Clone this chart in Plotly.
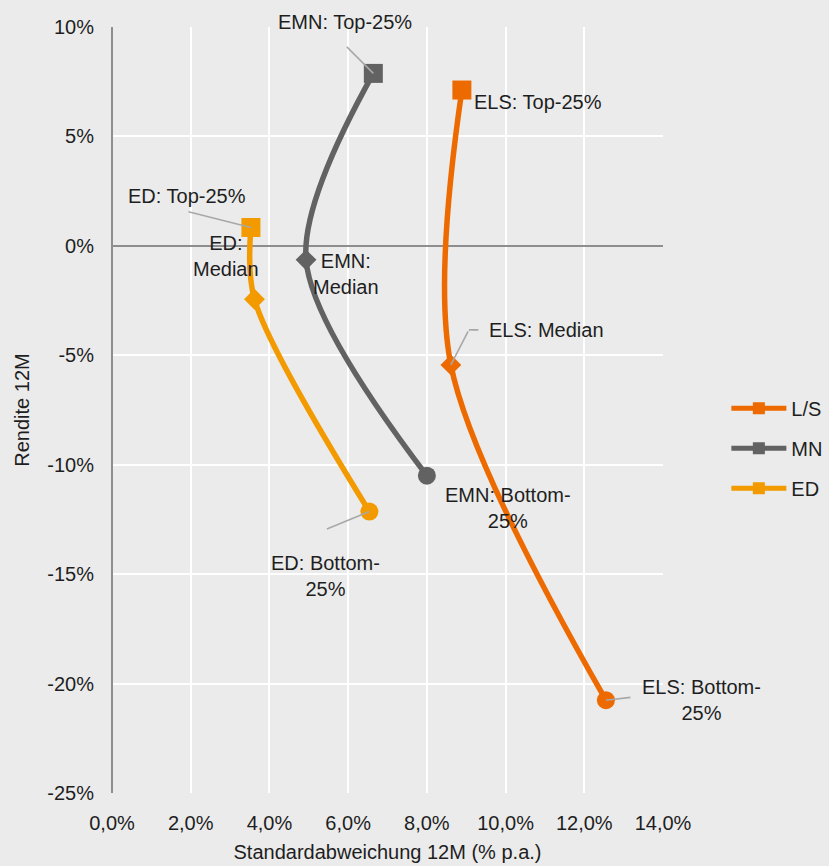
import plotly.graph_objects as go

# ---- data ----
series_names = ["L/S", "MN", "ED"]
point_labels = ["Top-25%", "Median", "Bottom-25%"]
sd_ls = [8.89, 8.61, 12.55]
ret_ls = [7.12, -5.44, -20.76]
sd_mn = [6.64, 4.93, 8.00]
ret_mn = [7.88, -0.64, -10.50]
sd_ed = [3.53, 3.62, 6.54]
ret_ed = [0.84, -2.44, -12.14]

x_tickvals = [0, 2, 4, 6, 8, 10, 12, 14]
x_ticktext = ["0,0%", "2,0%", "4,0%", "6,0%", "8,0%", "10,0%", "12,0%", "14,0%"]
y_tickvals = [10, 5, 0, -5, -10, -15, -20, -25]
y_ticktext = ["10%", "5%", "0%", "-5%", "-10%", "-15%", "-20%", "-25%"]

# ---- styles ----
FONT = "Liberation Sans, Arial, Helvetica, sans-serif"
TXT = "#1e1e1e"
BG = "#ebebeb"
C_LS = "#ec6a00"
C_MN = "#626262"
C_ED = "#f29a00"
LEAD = "#a8a8a8"
symbols = ["square", "diamond", "circle"]
sizes = [19, 16, 18]

fig = go.Figure()
for name, xs, ys, col in [("L/S", sd_ls, ret_ls, C_LS),
                          ("MN", sd_mn, ret_mn, C_MN),
                          ("ED", sd_ed, ret_ed, C_ED)]:
    fig.add_trace(go.Scatter(
        x=xs, y=ys, name=name, mode="lines+markers", legendgroup=name,
        line=dict(color=col, width=5.5, shape="spline", smoothing=0.9),
        marker=dict(symbol=symbols, size=sizes, color=col, opacity=1,
                    line=dict(width=0)),
        hoverinfo="skip",
    ))

annotations = []

def label(x, y, text, dx, dy, align="center", xanchor="center"):
    annotations.append(dict(x=x, y=y, xref="x", yref="y", text=text, showarrow=False,
                            xshift=dx, yshift=-dy, align=align, xanchor=xanchor,
                            yanchor="middle",
                            font=dict(family=FONT, size=20, color=TXT)))

def leader(x, y, ax, ay, sx=0, sy=0):
    annotations.append(dict(x=x, y=y, xref="x", yref="y", text="", showarrow=True,
                            ax=ax, ay=ay, axref="pixel", ayref="pixel",
                            xshift=sx, yshift=-sy,
                            arrowhead=0, arrowwidth=1.6, arrowcolor=LEAD,
                            standoff=0, startstandoff=0))

# EMN labels
label(sd_mn[0], ret_mn[0], "EMN: Top-25%", -28, -51)
leader(sd_mn[0], ret_mn[0], -28, -28)
label(sd_mn[1], ret_mn[1], "EMN:<br>Median", 40, 14)
label(sd_mn[2], ret_mn[2], "EMN: Bottom-<br>25%", 81, 32)
# ELS labels
label(sd_ls[0], ret_ls[0], "ELS: Top-25%", 10, 12, xanchor="left")
label(sd_ls[1], ret_ls[1], "ELS: Median", 96, -35)
leader(sd_ls[1], ret_ls[1], 18, -35)
leader(sd_ls[1], ret_ls[1], 11, 0, sx=18, sy=-35)
label(sd_ls[2], ret_ls[2], "ELS: Bottom-<br>25%", 96, 0)
leader(sd_ls[2], ret_ls[2], 26, -3)
# ED labels
label(sd_ed[0], ret_ed[0], "ED: Top-25%", -64, -31)
leader(sd_ed[0], ret_ed[0], -64, -16)
label(sd_ed[1], ret_ed[1], "ED:<br>Median", -28, -43)
label(sd_ed[2], ret_ed[2], "ED: Bottom-<br>25%", -44, 64)
leader(sd_ed[2], ret_ed[2], -44, 18)

fig.update_layout(
    width=829, height=866,
    margin=dict(l=112, r=166, t=27, b=73, autoexpand=False),
    paper_bgcolor=BG, plot_bgcolor=BG,
    font=dict(family=FONT, size=20, color=TXT),
    showlegend=True,
    legend=dict(x=1.115, xanchor="left", y=0.45, yanchor="middle",
                bgcolor="rgba(0,0,0,0)", traceorder="grouped",
                tracegroupgap=11, itemsizing="constant", itemwidth=55,
                font=dict(family=FONT, size=20, color=TXT)),
    annotations=annotations,
    xaxis=dict(range=[0, 14], tickvals=x_tickvals, ticktext=x_ticktext,
               showgrid=True, gridcolor="white", gridwidth=2,
               zeroline=True, zerolinecolor="#8e8e8e", zerolinewidth=2,
               showline=False, ticks="", ticklabelstandoff=16, automargin=False,
               title=dict(text="Standardabweichung 12M (% p.a.)", standoff=11,
                          font=dict(family=FONT, size=20, color=TXT))),
    yaxis=dict(range=[-25, 10], tickvals=y_tickvals, ticktext=y_ticktext,
               showgrid=True, gridcolor="white", gridwidth=2,
               zeroline=True, zerolinecolor="#8e8e8e", zerolinewidth=2,
               showline=False, ticks="", ticklabelstandoff=17, automargin=False,
               title=dict(text="Rendite 12M", standoff=12,
                          font=dict(family=FONT, size=20, color=TXT))),
)

fig.write_html(
    "out.html",
    config={"displayModeBar": False},
    post_script="document.body.style.margin='0';document.body.style.background='#ebebeb';",
)
